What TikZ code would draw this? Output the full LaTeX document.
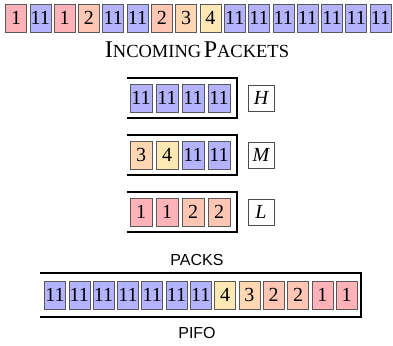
\documentclass[tikz,border=0pt]{standalone}
\usepackage{fontspec}
\setmainfont{Liberation Serif}
\setsansfont{Liberation Sans}
\usetikzlibrary{calc}
\definecolor{cA}{HTML}{FFB3B8}
\definecolor{cB}{HTML}{FFC6B3}
\definecolor{cC}{HTML}{FFD8B3}
\definecolor{cD}{HTML}{FFE8B3}
\definecolor{cE}{HTML}{B3B3FF}
\newcommand\fsc[2]{{\fontsize{24}{24}\selectfont #1}{\fontsize{18.5}{18.5}\selectfont #2}}
\tikzset{
  cell/.style={draw=black!65, line width=0.6pt, minimum width=21pt, minimum height=28pt, inner sep=0pt,
    font=\fontsize{20}{20}\selectfont},
  qcell/.style={minimum width=22pt},
  v1/.style={cell, fill=cA},
  v2/.style={cell, fill=cB},
  v3/.style={cell, fill=cC},
  v4/.style={cell, fill=cD},
  v11/.style={cell, fill=cE},
  qline/.style={line width=2pt, black},
  lab/.style={draw=black!70, line width=0.6pt, fill=white, minimum width=26pt, minimum height=26pt, inner sep=0pt,
    font=\fontsize{20}{20}\selectfont\itshape},
  captext/.style={font=\fontsize{16}{16}\selectfont\sffamily}
}
\begin{document}
\begin{tikzpicture}[x=1pt,y=-1pt]
\useasboundingbox (0,0) rectangle (393,345);
% top row
\foreach \v [count=\i] in {1,11,1,2,11,11,2,3,4,11,11,11,11,11,11,11}{
  \node[v\v] (t\i) at ({16+24.3*(\i-1)},18) {\v};
}
\node (inc) at (197,50) {\fsc{I}{NCOMING} \fsc{P}{ACKETS}};
% queues
\foreach \q/\y/\lst/\L in {h/98/{11,11,11,11}/H, m/155/{3,4,11,11}/M, l/212/{1,1,2,2}/L}{
  \foreach \v [count=\i] in \lst {
    \node[v\v, qcell] (\q\i) at ({141+26*(\i-1)},\y) {\v};
  }
  \node[lab] (\q L) at (261,\y) {\L};
  \draw[qline] ([xshift=-3pt,yshift=6pt]\q1.north west) -- ([xshift=7pt,yshift=6pt]\q4.north east)
     -- ([xshift=7pt,yshift=-6pt]\q4.south east) -- ([xshift=-3pt,yshift=-6pt]\q1.south west);
}
\node[captext] (packs) at (197,260) {PACKS};
% PIFO
\foreach \v [count=\i] in {11,11,11,11,11,11,11,4,3,2,2,1,1}{
  \node[v\v] (p\i) at ({55+24.3*(\i-1)},295) {\v};
}
\draw[qline] ([xshift=-4pt,yshift=8pt]p1.north west) -- ([xshift=4pt,yshift=8pt]p13.north east)
   -- ([xshift=4pt,yshift=-8pt]p13.south east) -- ([xshift=-4pt,yshift=-8pt]p1.south west);
\node[captext] (pifo) at (197,333) {PIFO};
\end{tikzpicture}
\end{document}
